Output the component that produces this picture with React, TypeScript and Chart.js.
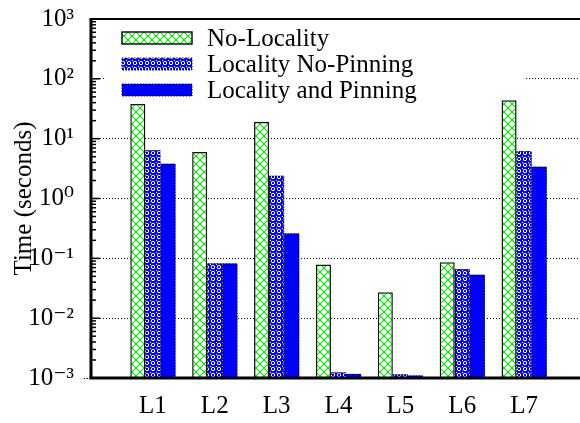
import { useEffect, useRef } from 'react';
import { Chart, registerables } from 'chart.js';

Chart.register(...registerables);

const categories = ['', 'L1', 'L2', 'L3', 'L4', 'L5', 'L6', 'L7', ''];
const seriesNames = ['No-Locality', 'Locality No-Pinning', 'Locality and Pinning'];
const noLocality = [null, 38, 6.0, 19, 0.079, 0.027, 0.086, 44, null];
const localityNoPinning = [null, 6.4, 0.082, 2.4, 0.00124, 0.00115, 0.066, 6.2, null];
const localityPinning = [null, 3.8, 0.082, 0.26, 0.00117, 0.0011, 0.053, 3.4, null];
const yTickValues = [1e-3, 1e-2, 1e-1, 1, 10, 100, 1000];
const yTickLabels = ['10⁻³', '10⁻²', '10⁻¹', '10⁰', '10¹', '10²', '10³'];
const yTitle = 'Time (seconds)';

const FONT = "'Liberation Serif', 'DejaVu Serif', serif";

function makeGreenPattern(ctx: CanvasRenderingContext2D) {
  const c = document.createElement('canvas');
  c.width = 8;
  c.height = 8;
  const g = c.getContext('2d')!;
  g.fillStyle = '#ffffff';
  g.fillRect(0, 0, 8, 8);
  g.strokeStyle = '#00e000';
  g.lineWidth = 1.1;
  g.beginPath();
  g.moveTo(0, 0);
  g.lineTo(8, 8);
  g.moveTo(8, 0);
  g.lineTo(0, 8);
  g.stroke();
  return ctx.createPattern(c, 'repeat')!;
}

function makeBluePattern(ctx: CanvasRenderingContext2D) {
  const c = document.createElement('canvas');
  c.width = 6;
  c.height = 6;
  const g = c.getContext('2d')!;
  g.fillStyle = '#0000ff';
  g.fillRect(0, 0, 6, 6);
  g.strokeStyle = '#ffffff';
  g.lineWidth = 1;
  g.beginPath();
  g.arc(3, 3, 1.7, 0, Math.PI * 2);
  g.stroke();
  g.fillStyle = '#ffffff';
  g.fillRect(0, 0, 1, 1);
  return ctx.createPattern(c, 'repeat')!;
}

export default function App() {
  const ref = useRef<HTMLCanvasElement | null>(null);

  useEffect(() => {
    const canvas = ref.current!;
    const ctx = canvas.getContext('2d')!;
    const green = makeGreenPattern(ctx);
    const blueP = makeBluePattern(ctx);
    const fills = [green, blueP, '#0000ff'];

    const legendPlugin = {
      id: 'insideLegend',
      beforeDatasetsDraw(chart: any) {
        const c = chart.ctx;
        c.save();
        c.fillStyle = '#ffffff';
        c.fillRect(105, 24, 419, 80);
        for (let i = 0; i < seriesNames.length; i++) {
          const y = 32 + 26 * i;
          c.fillStyle = fills[i];
          c.fillRect(122, y, 70, 12);
          if (i === 0) {
            c.setLineDash([]);
            c.strokeStyle = '#111111';
            c.lineWidth = 1.5;
          } else {
            c.setLineDash([1.5, 1.5]);
            c.strokeStyle = '#000022';
            c.lineWidth = 1;
          }
          c.strokeRect(122, y, 70, 12);
          c.setLineDash([]);
          c.fillStyle = '#000000';
          c.font = `25px ${FONT}`;
          c.textBaseline = 'middle';
          c.textAlign = 'left';
          c.fillText(seriesNames[i], 207, y + 7);
        }
        c.restore();
      },
      afterDatasetsDraw(chart: any) {
        const c = chart.ctx;
        c.save();
        [1, 2].forEach((di) => {
          const meta = chart.getDatasetMeta(di);
          meta.data.forEach((el: any) => {
            const p = el.getProps(['x', 'y', 'width', 'base'], true);
            if (p.y == null || isNaN(p.y)) return;
            c.setLineDash([1.5, 1.5]);
            c.strokeStyle = '#000022';
            c.lineWidth = 1;
            c.beginPath();
            c.moveTo(p.x - p.width / 2 + 0.5, p.base);
            c.lineTo(p.x - p.width / 2 + 0.5, p.y + 0.5);
            c.lineTo(p.x + p.width / 2 - 0.5, p.y + 0.5);
            c.lineTo(p.x + p.width / 2 - 0.5, p.base);
            c.stroke();
          });
        });
        c.restore();
      },
      afterDraw(chart: any) {
        const c = chart.ctx;
        const a = chart.chartArea;
        const ys = chart.scales.y;
        c.save();
        c.strokeStyle = '#000000';
        c.setLineDash([]);
        c.lineWidth = 1.5;
        for (let e = -3; e < 3; e++) {
          for (let m = 1; m <= 9; m++) {
            const v = m * Math.pow(10, e);
            const py = ys.getPixelForValue(v);
            const len = m === 1 ? 9 : 5;
            c.beginPath();
            c.moveTo(a.left, py);
            c.lineTo(a.left + len, py);
            c.stroke();
          }
        }
        c.lineWidth = 3;
        c.beginPath();
        c.moveTo(a.left, a.top);
        c.lineTo(a.left, a.bottom);
        c.stroke();
        c.beginPath();
        c.moveTo(a.left - 1.5, a.bottom);
        c.lineTo(a.right + 2, a.bottom);
        c.stroke();
        c.lineWidth = 2.2;
        c.beginPath();
        c.moveTo(a.left - 1.5, a.top);
        c.lineTo(a.right + 2, a.top);
        c.stroke();
        c.restore();
      },
    };

    const chart = new Chart(canvas, {
      type: 'bar',
      data: {
        labels: categories,
        datasets: [
          {
            label: seriesNames[0],
            data: noLocality,
            backgroundColor: green,
            borderColor: '#111111',
            borderWidth: 1.5,
          },
          {
            label: seriesNames[1],
            data: localityNoPinning,
            backgroundColor: blueP,
            borderWidth: 0,
          },
          {
            label: seriesNames[2],
            data: localityPinning,
            backgroundColor: '#0000ff',
            borderWidth: 0,
          },
        ],
      },
      options: {
        animation: false,
        responsive: false,
        maintainAspectRatio: false,
        devicePixelRatio: 1,
        layout: { padding: { top: 19, right: 14, left: 0, bottom: 0 } },
        plugins: { legend: { display: false }, tooltip: { enabled: false } },
        datasets: { bar: { categoryPercentage: 0.73, barPercentage: 1.0 } },
        scales: {
          x: {
            type: 'category',
            offset: false,
            grid: { display: false, drawTicks: false },
            border: { display: false },
            ticks: {
              color: '#000000',
              font: { family: FONT, size: 25 },
              padding: 13,
              autoSkip: false,
              maxRotation: 0,
            },
            afterFit: (s: any) => {
              s.height = 45;
              s.paddingLeft = 0;
              s.paddingRight = 0;
            },
          },
          y: {
            type: 'logarithmic',
            min: 1e-3,
            max: 1e3,
            afterBuildTicks: (s: any) => {
              s.ticks = yTickValues.map((v) => ({ value: v, major: true }));
            },
            afterFit: (s: any) => {
              s.width = 91;
              s.paddingTop = 0;
              s.paddingBottom = 0;
            },
            grid: {
              color: '#000000',
              lineWidth: 1,
              drawTicks: false,
            },
            border: { display: false, dash: [1, 2] },
            ticks: {
              color: '#000000',
              font: { family: FONT, size: 25 },
              padding: 17,
              autoSkip: false,
              callback: (v: any) => {
                const i = yTickValues.findIndex((t) => Math.abs(Math.log10(t) - Math.log10(Number(v))) < 1e-6);
                return i >= 0 ? yTickLabels[i] : '';
              },
            },
            title: {
              display: true,
              text: yTitle,
              color: '#000000',
              font: { family: FONT, size: 25 },
              padding: { top: 9, bottom: 0 },
            },
          },
        },
      },
      plugins: [legendPlugin],
    } as any);

    return () => chart.destroy();
  }, []);

  return (
    <div
      style={{
        position: 'fixed',
        left: 0,
        top: 0,
        width: 580,
        height: 423,
        overflow: 'hidden',
        background: '#ffffff',
      }}
    >
      <canvas ref={ref} width={600} height={423} style={{ display: 'block', width: 600, height: 423 }} />
    </div>
  );
}
